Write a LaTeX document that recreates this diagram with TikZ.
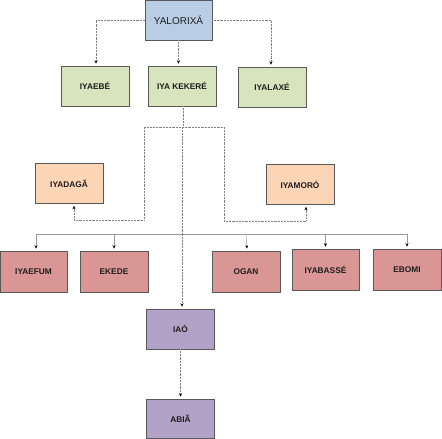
\documentclass[tikz,border=0pt]{standalone}
\usepackage{fontspec}
\setmainfont{Liberation Sans}
\usetikzlibrary{arrows.meta}
\definecolor{cblue}{RGB}{185,205,229}
\definecolor{cgreen}{RGB}{215,228,189}
\definecolor{corange}{RGB}{251,213,181}
\definecolor{cred}{RGB}{217,150,148}
\definecolor{cpurple}{RGB}{179,162,199}
\definecolor{ctext}{RGB}{30,30,30}
\tikzset{
  box/.style={rectangle, draw=black!65, line width=0.6pt, minimum width=68pt, minimum height=40pt,
    inner sep=0pt, text=ctext, font=\fontsize{8.3}{9}\selectfont\bfseries},
  conn/.style={draw=black!50, line width=0.45pt, densely dotted},
  bus/.style={draw=black!40, line width=0.5pt},
  arr/.style={-{Stealth[length=3.5pt,width=3pt,black]}, shorten >=2pt},
}
\begin{document}
\begin{tikzpicture}[x=1pt,y=-1pt]
\useasboundingbox (0,0) rectangle (442,439);
% nodes
\node[box, fill=cblue, minimum width=67pt, font=\fontsize{10}{12}\selectfont] (yal) at (178.5,20) {YALORIXÁ};
\node[box, fill=cgreen] (ebe) at (95,86) {IYAEBÉ};
\node[box, fill=cgreen] (kek) at (182,86) {IYA KEKERÉ};
\node[box, fill=cgreen] (lax) at (272,87) {IYALAXÉ};
\node[box, fill=corange] (dag) at (69,183.5) {IYADAGÃ};
\node[box, fill=corange] (mor) at (300,184.5) {IYAMORÓ};
\node[box, fill=cred, minimum width=67pt, minimum height=41pt] (fum) at (33.5,271.5) {IYAEFUM};
\node[box, fill=cred, minimum height=41pt] (eke) at (114,271.5) {EKEDE};
\node[box, fill=cred, minimum height=41pt] (oga) at (246,271.5) {OGAN};
\node[box, fill=cred, minimum width=67pt, minimum height=41pt] (bas) at (325.5,269.5) {IYABASSÉ};
\node[box, fill=cred, minimum height=41pt] (ebo) at (407,269.5) {EBOMI};
\node[box, fill=cpurple, minimum width=68pt] (iao) at (180.5,329) {IAÓ};
\node[box, fill=cpurple, minimum width=68pt, minimum height=39pt] (abi) at (180.5,418.5) {ABIÃ};
% junction coordinates
\coordinate (j0) at (182,127);
\coordinate (jl) at (144,127);
\coordinate (jr) at (224,127);
\coordinate (jlb) at (144,220);
\coordinate (jrb) at (224,221);
\coordinate (bc) at (182,234);
\coordinate (bl) at (36,234);
\coordinate (br) at (407,234);
% connectors from YALORIXÁ
\draw[conn, arr] (yal.west) -| ([xshift=1pt]ebe.north);
\draw[conn, arr] (yal.south) -- (yal.south |- kek.north);
\draw[conn, arr] (yal.east) -| ([xshift=-1pt]lax.north);
% IYA KEKERÉ branch
\draw[conn] ([xshift=1pt]kek.south) |- (j0);
\draw[conn] (jl) -- (jr);
\draw[conn, arr] (jl) -- (jlb) -| ([xshift=5pt]dag.south);
\draw[conn, arr] (jr) -- (jrb) -| ([xshift=6pt]mor.south);
\draw[conn] (j0) -- (bc);
% bus
\draw[bus] (bl) -- (br);
\draw[bus, arr] (bl) -- ([xshift=2.5pt]fum.north);
\draw[bus, arr] (bc -| eke.north) -- (eke.north);
\draw[bus, arr] (bc -| oga.north) -- ([xshift=1pt]oga.north);
\draw[bus, arr] (bc -| bas.north) -- (bas.north);
\draw[bus, arr] (br) -- (ebo.north);
\draw[conn, arr] (bc) -- (bc |- iao.north);
\draw[conn, arr] (iao.south) -- (abi.north);
\end{tikzpicture}
\end{document}
